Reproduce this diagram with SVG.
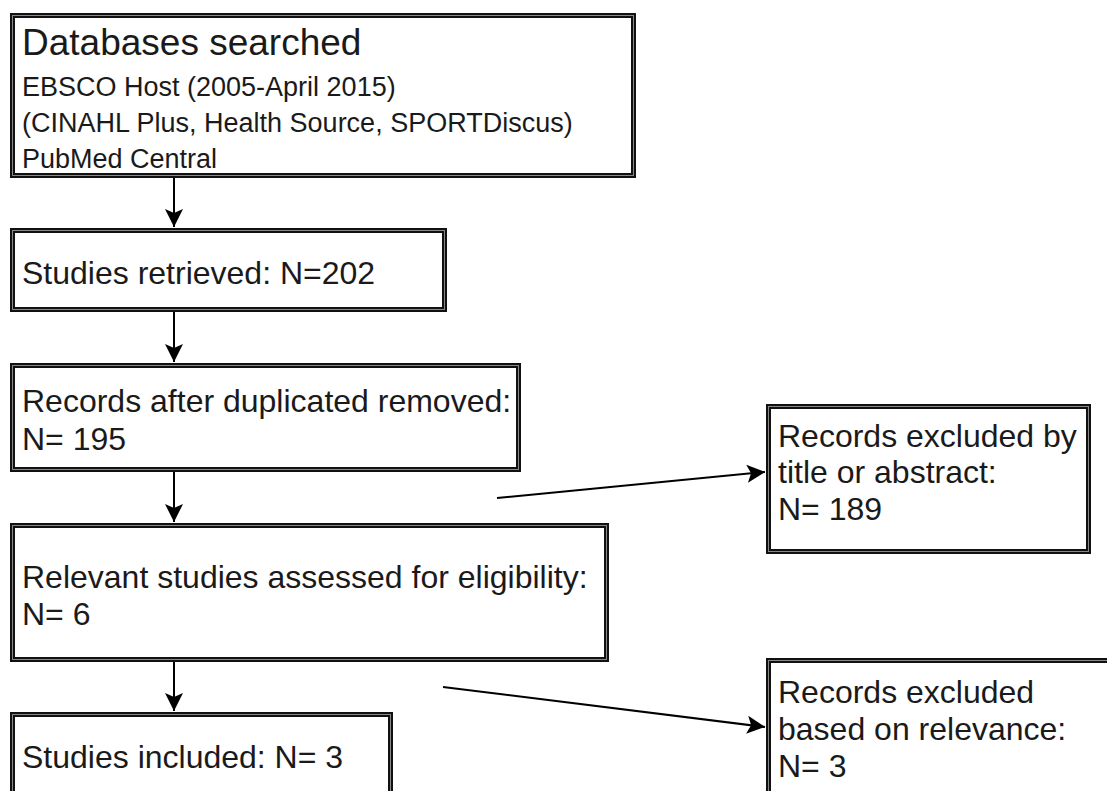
<svg xmlns="http://www.w3.org/2000/svg" width="1107" height="791" viewBox="0 0 1107 791">
<style>
.box{fill:#fff;stroke:#111;stroke-width:5}
.inner{fill:none;stroke:#888;stroke-width:1}
.t{font-family:"Liberation Sans",Arial,Helvetica,sans-serif;fill:#1a1a1a;font-size:32px}
.s{font-size:27px}
.h{font-size:37px}
.c{stroke:#000;stroke-width:2;fill:none;marker-end:url(#arr)}
</style>
<defs>
<marker id="arr" markerUnits="userSpaceOnUse" markerWidth="20" markerHeight="20" viewBox="-18 -10 20 20" refX="0" refY="0" orient="auto">
<path d="M0,0 L-18,-9 L-14,0 L-18,9 Z" fill="#000"/>
</marker>
</defs>
<rect width="1107" height="791" fill="#fff"/>
<g id="connectors">
<line class="c" x1="174" y1="178" x2="174" y2="227"/>
<line class="c" x1="174" y1="312" x2="174" y2="362"/>
<line class="c" x1="174" y1="472" x2="174" y2="522"/>
<line class="c" x1="174" y1="662" x2="174" y2="711"/>
<line class="c" x1="497" y1="498" x2="765" y2="472"/>
<line class="c" x1="443" y1="687" x2="765" y2="727"/>
</g>
<g id="n1">
<rect class="box" x="12.5" y="15.5" width="621" height="160"/>
<rect class="inner" x="12.5" y="15.5" width="621" height="160"/>
<text class="t h" x="22" y="55">Databases searched</text>
<text class="t s" x="22" y="96">EBSCO Host (2005-April 2015)</text>
<text class="t s" x="22" y="132">(CINAHL Plus, Health Source, SPORTDiscus)</text>
<text class="t s" x="22" y="168">PubMed Central</text>
</g>
<g id="n2">
<rect class="box" x="12.5" y="230.5" width="432" height="79"/>
<rect class="inner" x="12.5" y="230.5" width="432" height="79"/>
<text class="t" x="22" y="284">Studies retrieved: N=202</text>
</g>
<g id="n3">
<rect class="box" x="12.5" y="365.5" width="506" height="104"/>
<rect class="inner" x="12.5" y="365.5" width="506" height="104"/>
<text class="t" x="22" y="412">Records after duplicated removed:</text>
<text class="t" x="22" y="450">N= 195</text>
</g>
<g id="n4">
<rect class="box" x="12.5" y="525.5" width="594" height="134"/>
<rect class="inner" x="12.5" y="525.5" width="594" height="134"/>
<text class="t" x="22" y="588">Relevant studies assessed for eligibility:</text>
<text class="t" x="22" y="625">N= 6</text>
</g>
<g id="n5">
<rect class="box" x="12.5" y="714.5" width="378" height="100"/>
<rect class="inner" x="12.5" y="714.5" width="378" height="100"/>
<text class="t" x="22" y="768">Studies included: N= 3</text>
</g>
<g id="r1">
<rect class="box" x="768.5" y="406.5" width="320" height="145"/>
<rect class="inner" x="768.5" y="406.5" width="320" height="145"/>
<text class="t" x="778" y="447">Records excluded by</text>
<text class="t" x="778" y="483">title or abstract:</text>
<text class="t" x="778" y="520">N= 189</text>
</g>
<g id="r2">
<rect class="box" x="768.5" y="660.5" width="360" height="160"/>
<rect class="inner" x="768.5" y="660.5" width="360" height="160"/>
<text class="t" x="778" y="703">Records excluded</text>
<text class="t" x="778" y="740">based on relevance:</text>
<text class="t" x="778" y="777">N= 3</text>
</g>
</svg>
